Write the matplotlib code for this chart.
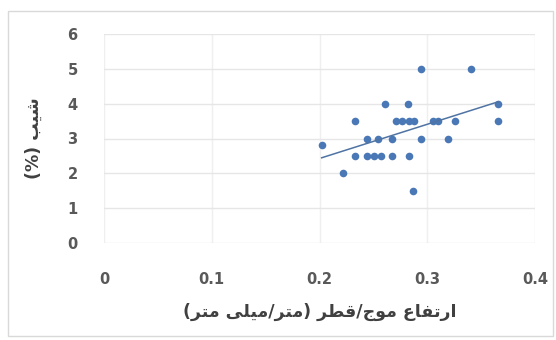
import numpy as np
import matplotlib
matplotlib.use("Agg")
import matplotlib.pyplot as plt
from matplotlib.patches import Rectangle

# ---- data ----
x_vals = [0.202, 0.222, 0.233, 0.271, 0.277, 0.283, 0.288, 0.305, 0.310, 0.326, 0.366,
          0.244, 0.254, 0.267, 0.294, 0.319,
          0.233, 0.244, 0.251, 0.257, 0.267, 0.283,
          0.261, 0.282, 0.366,
          0.294, 0.341,
          0.287]
y_vals = [2.8, 2.0, 3.5, 3.5, 3.5, 3.5, 3.5, 3.5, 3.5, 3.5, 3.5,
          3.0, 3.0, 3.0, 3.0, 3.0,
          2.5, 2.5, 2.5, 2.5, 2.5, 2.5,
          4.0, 4.0, 4.0,
          5.0, 5.0,
          1.5]
x_ticks = [0, 0.1, 0.2, 0.3, 0.4]
x_tick_labels = ["0", "0.1", "0.2", "0.3", "0.4"]
y_ticks = [0, 1, 2, 3, 4, 5, 6]
x_label = "ارتفاع موج/قطر (متر/میلی متر)"
y_label = "شیب (%)"

# ---- minimal Arabic/Persian shaping (matplotlib has no shaping) ----
FORMS = {  # isolated, final, initial, medial
    'ا': ('\uFE8D', '\uFE8E', None, None),
    'ر': ('\uFEAD', '\uFEAE', None, None),
    'و': ('\uFEED', '\uFEEE', None, None),
    'ت': ('\uFE95', '\uFE96', '\uFE97', '\uFE98'),
    'ف': ('\uFED1', '\uFED2', '\uFED3', '\uFED4'),
    'ع': ('\uFEC9', '\uFECA', '\uFECB', '\uFECC'),
    'م': ('\uFEE1', '\uFEE2', '\uFEE3', '\uFEE4'),
    'ج': ('\uFE9D', '\uFE9E', '\uFE9F', '\uFEA0'),
    'ق': ('\uFED5', '\uFED6', '\uFED7', '\uFED8'),
    'ط': ('\uFEC1', '\uFEC2', '\uFEC3', '\uFEC4'),
    'ل': ('\uFEDD', '\uFEDE', '\uFEDF', '\uFEE0'),
    'ش': ('\uFEB5', '\uFEB6', '\uFEB7', '\uFEB8'),
    'ب': ('\uFE8F', '\uFE90', '\uFE91', '\uFE92'),
    'ی': ('\uFBFC', '\uFBFD', '\uFBFE', '\uFBFF'),
}
MIRROR = {'(': ')', ')': '('}


def shape_rtl(s):
    out = []
    n = len(s)
    for i, ch in enumerate(s):
        if ch not in FORMS:
            out.append(ch)
            continue
        f = FORMS[ch]
        prev = s[i - 1] if i > 0 else None
        nxt = s[i + 1] if i < n - 1 else None
        prev_joins = prev in FORMS and FORMS[prev][2] is not None
        can_join_next = f[2] is not None and nxt in FORMS
        if prev_joins and can_join_next:
            out.append(f[3])
        elif prev_joins:
            out.append(f[1])
        elif can_join_next:
            out.append(f[2])
        else:
            out.append(f[0])
    vis = [MIRROR.get(c, c) for c in reversed(out)]
    return ''.join(vis)


fig = plt.figure(figsize=(5.56, 3.40), dpi=100)
fig.patch.set_facecolor('white')
fig.patches.append(Rectangle((8 / 556, 1 - 336 / 340), (553 - 8) / 556, (336 - 11) / 340,
                             transform=fig.transFigure, fill=False,
                             edgecolor='#d9d9d9', lw=1.0))

ax = fig.add_axes([104 / 556, 1 - 243 / 340, (535 - 104) / 556, (243 - 34) / 340])
ax.set_xlim(0, 0.4)
ax.set_ylim(0, 6)
ax.set_xticks(x_ticks)
ax.set_xticklabels(x_tick_labels)
ax.set_yticks(y_ticks)
ax.grid(True, axis='y', color='#e6e6e6', lw=1.0)
ax.grid(True, axis='x', color='#efefef', lw=1.0)
ax.set_axisbelow(True)
for sp in ax.spines.values():
    sp.set_visible(False)
ax.tick_params(length=0, labelsize=10.5, labelcolor='#595959')
ax.tick_params(axis='y', pad=19)
ax.tick_params(axis='x', pad=21)
for lab in ax.get_xticklabels() + ax.get_yticklabels():
    lab.set_fontweight('bold')

ax.scatter(x_vals, y_vals, s=30, color='#4a78b6', zorder=3, linewidths=0)

xa = np.array(x_vals)
ya = np.array(y_vals)
m, b = np.polyfit(xa, ya, 1)
xl = np.array([xa.min(), xa.max()])
ax.plot(xl, m * xl + b, color='#4f73a3', lw=1.1, zorder=4)

ax.set_xlabel(shape_rtl(x_label), fontsize=12.5, fontweight='bold', color='#404040',
              family=['DejaVu Sans'], labelpad=11)
ax.set_ylabel(shape_rtl(y_label), fontsize=12.5, fontweight='bold', color='#404040',
              family=['DejaVu Sans'], labelpad=18)

fig.savefig('out.png', dpi=100, facecolor='white')
